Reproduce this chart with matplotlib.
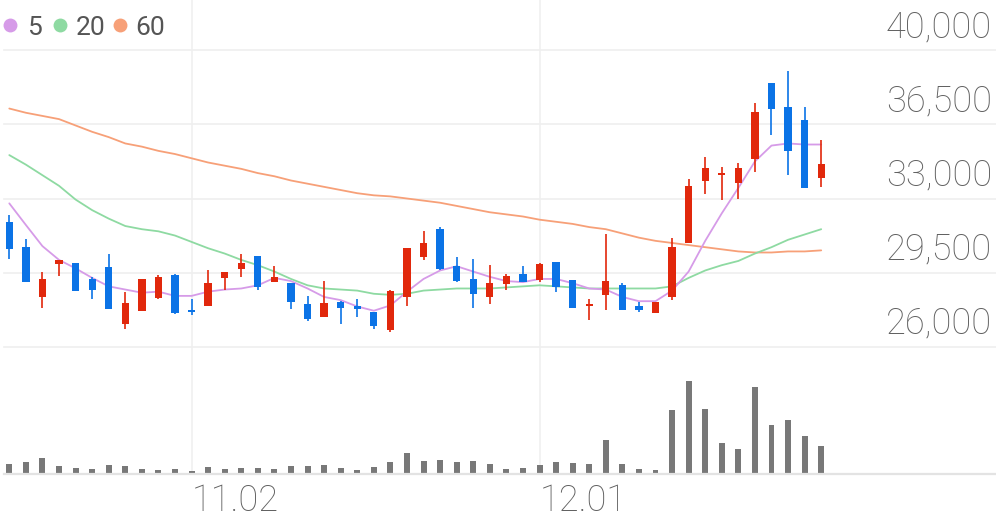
import matplotlib
matplotlib.use('Agg')
import matplotlib.pyplot as plt
from matplotlib.lines import Line2D
from matplotlib.transforms import blended_transform_factory

# données (cours journaliers)
opens = [31900, 30700, 28350, 29900, 29950, 29200, 29750, 27050, 27700, 28300,
         29400, 27750, 27900, 29250, 29650, 30300, 29050, 29000, 28000, 27400,
         28100, 27900, 27650, 26800, 28350, 30250, 31550, 29800, 29200, 28350,
         28950, 29450, 29150, 30000, 29150, 27900, 28450, 28900, 27900, 27600,
         28350, 30900, 33850, 34100, 33750, 34850, 38450, 37300, 36700, 33950]
highs = [32200, 31100, 29550, 30100, 29950, 29300, 30400, 28600, 29200, 29400,
         29450, 28250, 29600, 29550, 30400, 30300, 29800, 29000, 28400, 29100,
         28150, 28250, 27650, 28700, 30650, 31450, 31650, 30250, 30150, 29850,
         29450, 29800, 29950, 30000, 29150, 28250, 31300, 29000, 28100, 28100,
         31150, 33900, 34950, 34500, 34700, 37500, 38450, 39000, 37300, 35750]
lows = [30150, 29050, 27850, 29350, 28650, 28250, 27800, 26850, 27700, 28250,
        27550, 27500, 27900, 28700, 29300, 28700, 29050, 27800, 27200, 27400,
        27050, 27400, 26850, 26700, 27900, 30100, 29600, 29050, 27850, 28000,
        28700, 29050, 29050, 28600, 27850, 27250, 27750, 27750, 27650, 27600,
        28200, 30900, 33200, 32950, 33000, 34250, 36000, 34100, 33500, 33550]
closes = [30600, 29050, 29200, 30100, 28650, 28700, 27800, 28050, 29200, 29300,
          27600, 27650, 29000, 29550, 29950, 28800, 29300, 28100, 27300, 28050,
          27850, 27800, 27000, 28650, 30650, 30900, 29650, 29100, 28500, 29000,
          29350, 29050, 29900, 28800, 27850, 28000, 29100, 27750, 27750, 28100,
          30700, 33600, 34450, 34200, 34450, 37100, 37250, 35250, 33500, 34650]
volume = [103, 123, 163, 87, 67, 50, 93, 83, 50, 43,
          53, 37, 70, 57, 67, 67, 53, 87, 83, 93,
          63, 43, 73, 120, 213, 137, 147, 123, 137, 103,
          53, 63, 90, 123, 110, 100, 347, 103, 53, 47,
          643, 933, 650, 313, 250, 873, 497, 543, 383, 283]

ma5 = [32770, 31750, 30750, 30100, 29700, 29250, 28850, 28700, 28550, 28600,
       28400, 28400, 28600, 28700, 28750, 28900, 29250, 29100, 28750, 28350,
       28200, 27900, 27700, 27950, 28600, 29200, 29600, 29800, 29550, 29300,
       29100, 29050, 29200, 29200, 29000, 28750, 28700, 28350, 28150, 28150,
       28650, 29550, 31000, 32300, 33500, 34750, 35500, 35600, 35550, 35550]
ma20 = [35050, 34600, 34100, 33600, 32950, 32450, 32050, 31700, 31550, 31450,
        31250, 30950, 30650, 30400, 30100, 29850, 29550, 29200, 28900, 28750,
        28700, 28650, 28500, 28450, 28500, 28650, 28700, 28750, 28750, 28750,
        28800, 28850, 28900, 28850, 28800, 28750, 28750, 28750, 28750, 28750,
        28850, 29250, 29600, 29850, 30050, 30400, 30700, 31050, 31300, 31550]
ma60 = [37250, 37050, 36900, 36750, 36450, 36150, 35900, 35600, 35450, 35250,
        35100, 34900, 34700, 34550, 34400, 34200, 34050, 33850, 33700, 33550,
        33400, 33250, 33150, 33100, 33000, 32900, 32800, 32650, 32500, 32350,
        32250, 32150, 32000, 31900, 31800, 31650, 31550, 31350, 31150, 31000,
        30900, 30800, 30700, 30600, 30500, 30450, 30450, 30500, 30500, 30550]

price_ticks = [26000, 29500, 33000, 36500, 40000]
date_pos = [11, 32]
date_labels = ['11.02', '12.01']

ma_names = ['5', '20', '60']
ma_colors = ['#d69be8', '#8edaa2', '#f7a078']
up_color = '#e1280c'
down_color = '#0b73e6'
vol_color = '#787878'
grid_color = '#efefef'
txt_color = '#606060'

W, H = 996, 519
fig = plt.figure(figsize=(W / 100, H / 100), dpi=100)

# panneau des prix (le haut va jusqu'au bord pour les lignes verticales)
y26, y40 = 346.7, 50.3
px_per_won = (y26 - y40) / (price_ticks[-1] - price_ticks[0])
ax = fig.add_axes([4 / W, 1 - y26 / H, 992 / W, y26 / H])
ax.set_ylim(price_ticks[0], price_ticks[0] + y26 / px_per_won)

# panneau des volumes
yb = 474.3
axv = fig.add_axes([4 / W, 1 - yb / H, 992 / W, (yb - y26) / H])
axv.set_ylim(0, max(volume) * (yb - y26) / 93.3)

for a in (ax, axv):
    a.set_xlim(-0.32, 59.55)
    a.axis('off')
    for p in date_pos:
        a.axvline(p, color=grid_color, lw=1.1, zorder=0)

for t in price_ticks:
    ax.axhline(t, color=grid_color, lw=1.2, zorder=0, clip_on=False)
axv.axhline(0, color='#e3e3e3', lw=1.6, zorder=3, clip_on=False)

x = list(range(len(closes)))

# moyennes mobiles
for vals, col in zip([ma60, ma20, ma5], ma_colors[::-1]):
    ax.plot(x, vals, color=col, lw=1.3, zorder=2, solid_capstyle='round')

# bougies
cols = [up_color if c >= o else down_color for o, c in zip(opens, closes)]
ax.vlines(x, lows, highs, colors=cols, lw=1.2, zorder=4)
bottoms = [min(o, c) for o, c in zip(opens, closes)]
heights = [max(abs(c - o), 70) for o, c in zip(opens, closes)]
ax.bar(x, heights, bottom=bottoms, width=0.44, color=cols, zorder=5)

axv.bar(x, volume, width=0.36, color=vol_color, zorder=2)

# étiquettes de l'axe des prix (à droite, au-dessus des lignes)
tr = blended_transform_factory(ax.transAxes, ax.transData)
for t in price_ticks:
    ax.annotate(f'{t:,}', xy=(1, t), xycoords=tr, xytext=(-4, 13),
                textcoords='offset pixels', ha='right', va='baseline',
                fontsize=26, color=txt_color, family='Roboto', fontweight='light')

for p, lab in zip(date_pos, date_labels):
    axv.annotate(lab, xy=(p, 0), xycoords='data', xytext=(0, -37),
                 textcoords='offset pixels', ha='left', va='baseline',
                 fontsize=26, color=txt_color, family='Roboto', fontweight='light')

# légende
leg_dot_x = [10, 60, 120]
leg_txt_x = [27, 76, 135]
for dx, tx, name, col in zip(leg_dot_x, leg_txt_x, ma_names, ma_colors):
    fig.add_artist(Line2D([dx / W], [1 - 25 / H], marker='o', markersize=10,
                          color=col, markeredgewidth=0, transform=fig.transFigure))
    fig.text(tx / W, 1 - 35 / H, name, ha='left', va='baseline', fontsize=19,
             color='#555555', family='Roboto')

fig.savefig('out.png', dpi=100)
